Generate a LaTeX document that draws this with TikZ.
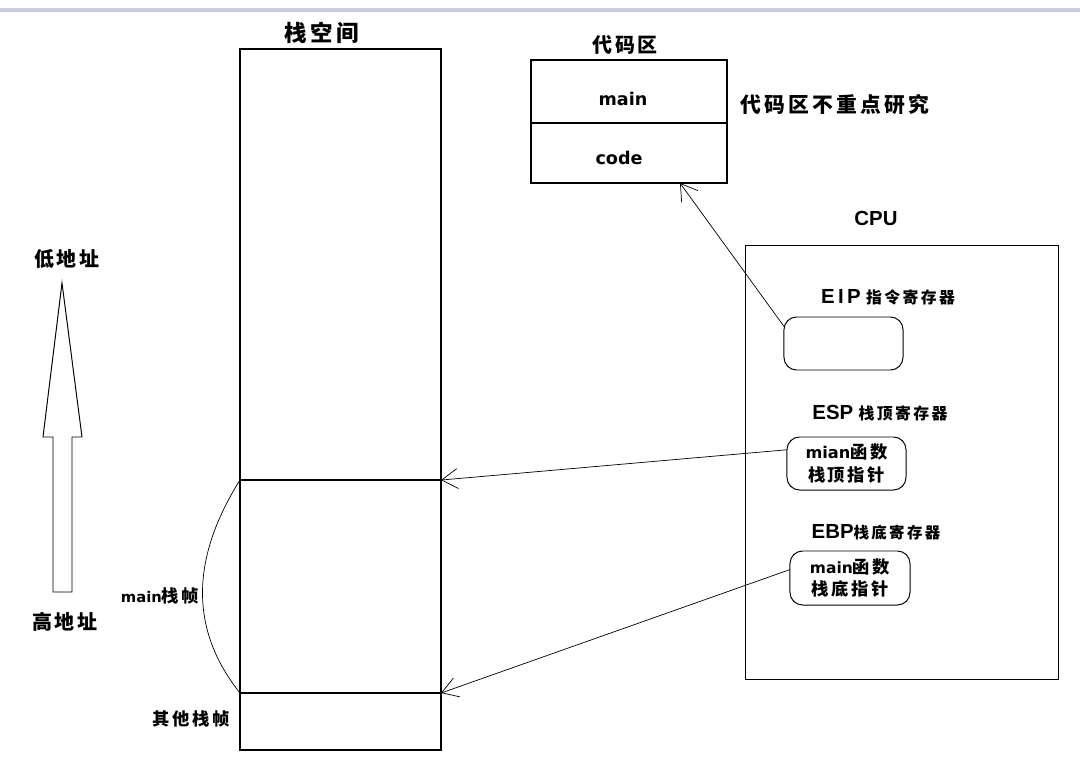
\documentclass[tikz,border=0pt]{standalone}
\usepackage{fontspec}
\setmainfont{Noto Sans CJK SC}[LetterSpace=15]
\newfontfamily\arialish{Liberation Sans}
\newfontfamily\verdish{DejaVu Sans}
\usetikzlibrary{arrows.meta,calc}
\definecolor{topbar}{RGB}{200,207,222}
\newcommand\cjksize[1]{\fontsize{#1}{#1}\selectfont}
\newcommand\lat[2]{{\verdish\bfseries\fontsize{#1}{#1}\selectfont #2}}
\newcommand\reglbl[1]{{\arialish\bfseries\fontsize{14.5}{14.5}\selectfont #1}}

\begin{document}
\begin{tikzpicture}[x=0.025cm, y=-0.025cm, outer sep=0pt, >={Straight Barb[length=4mm,width=5mm]},
  font=\bfseries]
\tikzset{cell/.style={draw, line width=0.9pt},
  reg/.style={draw, line width=0.7pt, rounded corners=9pt, align=center},
  ptr/.style={->, line width=0.5pt}}

\useasboundingbox (0,0) rectangle (1080,768);
\draw [topbar, line width=2.2pt] (0,10) -- (1080,10);

% stack space
\node [cell, minimum width=5.025cm, minimum height=10.775cm] at (340.5, 264.5) (free) {};
\node [cell, minimum width=5.025cm, minimum height=5.325cm] at (340.5, 586.5) (mainfr) {};
\node [cell, minimum width=5.025cm, minimum height=1.425cm] at (340.5, 721.5) (other) {};
\node at (322, 33) (stacktitle) {\cjksize{16}栈空间};
\node at (160, 596) (mainlbl) {\lat{10.5}{main}\cjksize{12.3}栈帧};
\node at (191, 719) (otherlbl) {\cjksize{12.3}其他栈帧};
\draw [line width=0.5pt] (mainfr.north west) .. controls (190, 560) and (190, 630) .. (mainfr.south west);

% address direction
\node at (67, 259) (low) {\cjksize{14.2}低地址};
\node at (65, 622) (high) {\cjksize{14.2}高地址};
\draw [line width=0.7pt] (62, 283) -- (82, 437) -- (72, 437) -- (72, 592) -- (53, 592)
  -- (53, 437) -- (43, 437) -- cycle;

% code area
\node [cell, minimum width=4.9cm, minimum height=1.575cm] at (629, 91.5) (cmain) {};
\node [cell, minimum width=4.9cm, minimum height=1.5cm] at (629, 153) (ccode) {};
\node at (623, 99) (cmaintxt) {\lat{12.5}{main}};
\node at (619, 158) (ccodetxt) {\lat{12.5}{code}};
\node at (625, 45) (codetitle) {\cjksize{14.2}代码区};
\node at (835, 105) (codenote) {\cjksize{14.8}代码区不重点研究};
\coordinate (codeend) at ($(ccode.south east)!0.24!(ccode.south west)$);

% cpu
\node at (876, 218) (cputitle) {\reglbl{CPU}};
\node [cell, line width=0.7pt, minimum width=7.8cm, minimum height=10.825cm] at (902, 462.5) (cpu) {};
\node at (888, 297) (eiplbl) {\reglbl{E\,I\,P} \cjksize{11.3}指令寄存器};
\node at (880, 413) (esplbl) {\reglbl{ESP} \cjksize{11.3}栈顶寄存器};
\node at (876, 532) (ebplbl) {\reglbl{EBP}\cjksize{11}栈底寄存器};
\node [reg, minimum width=2.975cm, minimum height=1.325cm] at (843.5, 343.5) (eip) {};
\node [reg, minimum width=2.975cm, minimum height=1.325cm] at (846.5, 463.5) (esp)
  {\lat{11.5}{mian}\cjksize{12.3}函数\\[4pt]\cjksize{12.3}栈顶指针};
\node [reg, minimum width=3cm, minimum height=1.35cm] at (850, 578) (ebp)
  {\lat{11}{main}\cjksize{12.3}函数\\[3pt]\cjksize{12.3}栈底指针};

\draw [ptr] (eip.164) to (codeend);
\draw [ptr] (esp.167) to (free.south east);
\draw [ptr] (ebp.172) to (mainfr.south east);
\end{tikzpicture}
\end{document}
